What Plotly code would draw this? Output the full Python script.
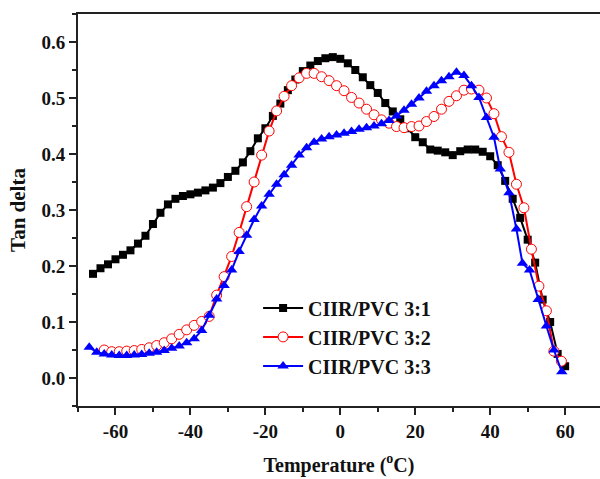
import plotly.graph_objects as go

# ---- data ----
t_31 = list(range(-66, 62, 2))
tan_31 = [0.186, 0.196, 0.203, 0.212, 0.220, 0.228, 0.240, 0.254, 0.275, 0.295,
          0.310, 0.320, 0.325, 0.328, 0.331, 0.335, 0.340, 0.348, 0.359, 0.370,
          0.385, 0.405, 0.428, 0.446, 0.468, 0.490, 0.514, 0.533, 0.548, 0.558,
          0.566, 0.571, 0.573, 0.570, 0.562, 0.550, 0.537, 0.523, 0.509, 0.491,
          0.476, 0.462, 0.446, 0.430, 0.421, 0.408, 0.406, 0.403, 0.398, 0.405,
          0.408, 0.408, 0.404, 0.396, 0.380, 0.352, 0.320, 0.286, 0.247, 0.206,
          0.140, 0.100, 0.043, 0.021]

t_32 = list(range(-63, 61, 2))
tan_32 = [0.050, 0.047, 0.047, 0.048, 0.049, 0.051, 0.054, 0.058, 0.063, 0.070,
          0.078, 0.086, 0.094, 0.101, 0.110, 0.148, 0.181, 0.217, 0.260, 0.306,
          0.350, 0.398, 0.441, 0.477, 0.503, 0.522, 0.536, 0.544, 0.544, 0.538,
          0.531, 0.522, 0.513, 0.501, 0.491, 0.480, 0.470, 0.461, 0.455, 0.449,
          0.447, 0.449, 0.450, 0.458, 0.467, 0.480, 0.494, 0.504, 0.514, 0.516,
          0.514, 0.500, 0.472, 0.431, 0.403, 0.346, 0.304, 0.230, 0.164, 0.120,
          0.048, 0.030]

t_33 = [-67, -65, -63, -61, -59, -57, -55, -53, -51, -49, -47, -45, -43, -41,
        -39, -37, -35, -33, -31, -29, -27, -25, -23, -21, -19, -17, -15, -13,
        -11, -9, -7, -5, -3, -1, 1, 3, 5, 7, 9, 11, 13, 15, 17, 19, 21, 23, 25,
        27, 29, 31, 33, 35, 37, 39, 41, 42.7, 45, 47, 48.6, 50.5, 52.8, 55, 57,
        59.1]
tan_33 = [0.055, 0.046, 0.043, 0.041, 0.040, 0.040, 0.041, 0.042, 0.044, 0.046,
          0.049, 0.053, 0.057, 0.063, 0.070, 0.085, 0.112, 0.141, 0.165, 0.193,
          0.226, 0.255, 0.283, 0.307, 0.328, 0.346, 0.363, 0.380, 0.398, 0.411,
          0.421, 0.427, 0.431, 0.434, 0.437, 0.440, 0.444, 0.447, 0.450, 0.454,
          0.460, 0.468, 0.478, 0.489, 0.500, 0.512, 0.522, 0.531, 0.538, 0.546,
          0.540, 0.522, 0.501, 0.465, 0.430, 0.373, 0.331, 0.266, 0.205, 0.193,
          0.140, 0.093, 0.050, 0.011]

names = ["CIIR/PVC 3:1", "CIIR/PVC 3:2", "CIIR/PVC 3:3"]
x_ticks = [-60, -40, -20, 0, 20, 40, 60]
x_tick_labels = ["-60", "-40", "-20", "0", "20", "40", "60"]
y_ticks = [0.0, 0.1, 0.2, 0.3, 0.4, 0.5, 0.6]
y_tick_labels = ["0.0", "0.1", "0.2", "0.3", "0.4", "0.5", "0.6"]

FONT = "Liberation Serif"

fig = go.Figure()
fig.add_trace(go.Scatter(
    x=t_31, y=tan_31, name=names[0], mode="lines+markers",
    line=dict(color="black", width=2),
    marker=dict(symbol="square", size=8, color="black")))
fig.add_trace(go.Scatter(
    x=t_32, y=tan_32, name=names[1], mode="lines+markers",
    line=dict(color="#ff0000", width=2),
    marker=dict(symbol="circle", size=10, color="white",
                line=dict(color="#ff0000", width=1))))
fig.add_trace(go.Scatter(
    x=t_33, y=tan_33, name=names[2], mode="lines+markers",
    line=dict(color="#0000ff", width=2),
    marker=dict(symbol="triangle-up", size=10, color="#0000ff")))

axis_common = dict(
    showgrid=False, zeroline=False, showline=True, linecolor="#222",
    linewidth=2, ticks="outside", ticklen=7, tickwidth=1.5, tickcolor="#222",
    tickfont=dict(family=FONT, size=19, color="#111", weight="bold"),
)

fig.update_xaxes(
    **axis_common, range=[-70, 69.3], tickvals=x_ticks, ticktext=x_tick_labels,
    mirror=True,
    minor=dict(ticks="outside", ticklen=4, tickwidth=1.5, tickcolor="#222", dtick=10),
    title=dict(text="Temperature (<sup>o</sup>C)",
               font=dict(family=FONT, size=20, color="#111", weight="bold"),
               standoff=17),
)
fig.update_yaxes(
    **axis_common, range=[-0.05, 0.65], tickvals=y_ticks, ticktext=y_tick_labels,
    minor=dict(ticks="outside", ticklen=4, tickwidth=1.5, tickcolor="#222", dtick=0.05),
    title=dict(text="Tan delta",
               font=dict(family=FONT, size=21, color="#111", weight="bold"),
               standoff=10),
)

fig.update_layout(
    width=600, height=479,
    margin=dict(l=78, r=0, t=14, b=73),
    plot_bgcolor="white", paper_bgcolor="white",
    showlegend=True,
    legend=dict(x=0.345, y=0.30, xanchor="left", yanchor="top",
                bgcolor="rgba(0,0,0,0)",
                font=dict(family=FONT, size=20, color="#111", weight="bold"),
                itemwidth=40, tracegroupgap=0),
)

fig.write_html("out.html")
